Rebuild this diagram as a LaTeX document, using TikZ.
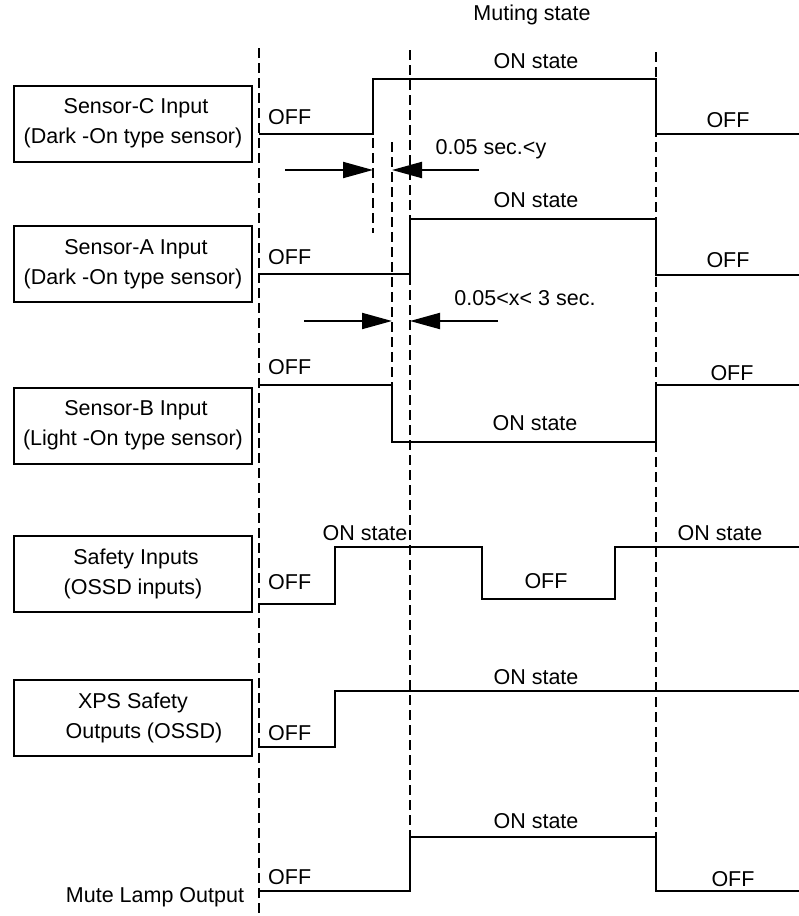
\documentclass[tikz,border=0pt]{standalone}
\usepackage{fontspec}
\setmainfont{Liberation Sans}
\usetikzlibrary{positioning, arrows.meta}
\tikzset{label box/.style={draw,line width=2pt,minimum width=238pt,minimum height=76pt,inner sep=0pt,align=center,font=\fontsize{21.5}{30}\selectfont}}
\tikzset{state/.style={inner sep=0pt,font=\fontsize{21.5}{25}\selectfont}}
\tikzset{signal/.style={line width=2.4pt}}
\tikzset{guide/.style={line width=2.2pt,dash pattern=on 10pt off 5pt}}
\tikzset{gap arrow/.style={line width=2pt,-{Triangle[length=30pt,width=16pt]}}}

\begin{document}
\begin{tikzpicture}[x=1pt,y=-1pt]
\useasboundingbox (0,0) rectangle (799,916);

% signal names
\node[label box] (C) at (133,123.5) {\hspace*{6pt}Sensor-C Input\\(Dark -On type sensor)};
\node[label box] (A) at (133,264) {\hspace*{6pt}Sensor-A Input\\(Dark -On type sensor)};
\node[label box] (B) at (133,425.5) {\hspace*{6pt}Sensor-B Input\\(Light -On type sensor)};
\node[label box] (S) at (133,574) {\hspace*{6pt}Safety Inputs\\(OSSD inputs)};
\node[label box] (X) at (133,717.5) {XPS Safety\\\hspace*{22pt}Outputs (OSSD)};
\node[state] (M) at (155,897) {Mute Lamp Output};

% time marks
\foreach \x/\top/\bot in {259/48/916, 410/50/837, 656/52/837, 373/138/233, 392/142/385}
  \draw[guide] (\x,\top) -- (\x,\bot);

% waveforms
\draw[signal] (259,134) -- (373,134) -- (373,79) -- (656,79) -- (656,134) -- (799,134);
\draw[signal] (259,274) -- (410,274) -- (410,219) -- (656,219) -- (656,275) -- (799,275);
\draw[signal] (259,385) -- (392,385) -- (392,442) -- (656,442) -- (656,385) -- (799,385);
\draw[signal] (259,604) -- (335,604) -- (335,547) -- (482,547) -- (482,599) -- (615,599) -- (615,547) -- (799,547);
\draw[signal] (259,747) -- (335,747) -- (335,691) -- (799,691);
\draw[signal] (259,891) -- (410,891) -- (410,837) -- (656,837) -- (656,891) -- (799,891);

% states
\node[state] (mute) at (532,15) {Muting state};
\node[state] (c on) at (536,61) {ON state};
\node[state, anchor=west] (c off) at (268,117) {OFF};
\node[state] (c off2) at (728,120) {OFF};
\node[state] (y gap) at (491,149) {0.05 sec.<y};
\node[state] (a on) at (536,200) {ON state};
\node[state, anchor=west] (a off) at (268,257) {OFF};
\node[state] (a off2) at (728,260) {OFF};
\node[state] (x gap) at (525,298) {0.05<x< 3 sec.};
\node[state, anchor=west] (b off) at (268,367) {OFF};
\node[state] (b off2) at (732,373) {OFF};
\node[state] (b on) at (535,423) {ON state};
\node[state] (s on) at (365,533) {ON state};
\node[state, anchor=west] (s off) at (268,582) {OFF};
\node[state] (s off2) at (546,581) {OFF};
\node[state] (s on2) at (720,533) {ON state};
\node[state] (x on) at (536,677) {ON state};
\node[state, anchor=west] (x off) at (268,733) {OFF};
\node[state] (m on) at (536,821) {ON state};
\node[state, anchor=west] (m off) at (268,877) {OFF};
\node[state] (m off2) at (733,879) {OFF};

% delay arrows
\coordinate (y1) at (285,170);
\coordinate (y2) at (373,170);
\coordinate (y3) at (392,170);
\coordinate (y4) at (479,170);
\coordinate (x1) at (304,321);
\coordinate (x2) at (392,321);
\coordinate (x3) at (410,321);
\coordinate (x4) at (498,321);
\draw[gap arrow] (y1) -- (y2);
\draw[gap arrow] (y4) -- (y3);
\draw[gap arrow] (x1) -- (x2);
\draw[gap arrow] (x4) -- (x3);
\end{tikzpicture}
\end{document}
